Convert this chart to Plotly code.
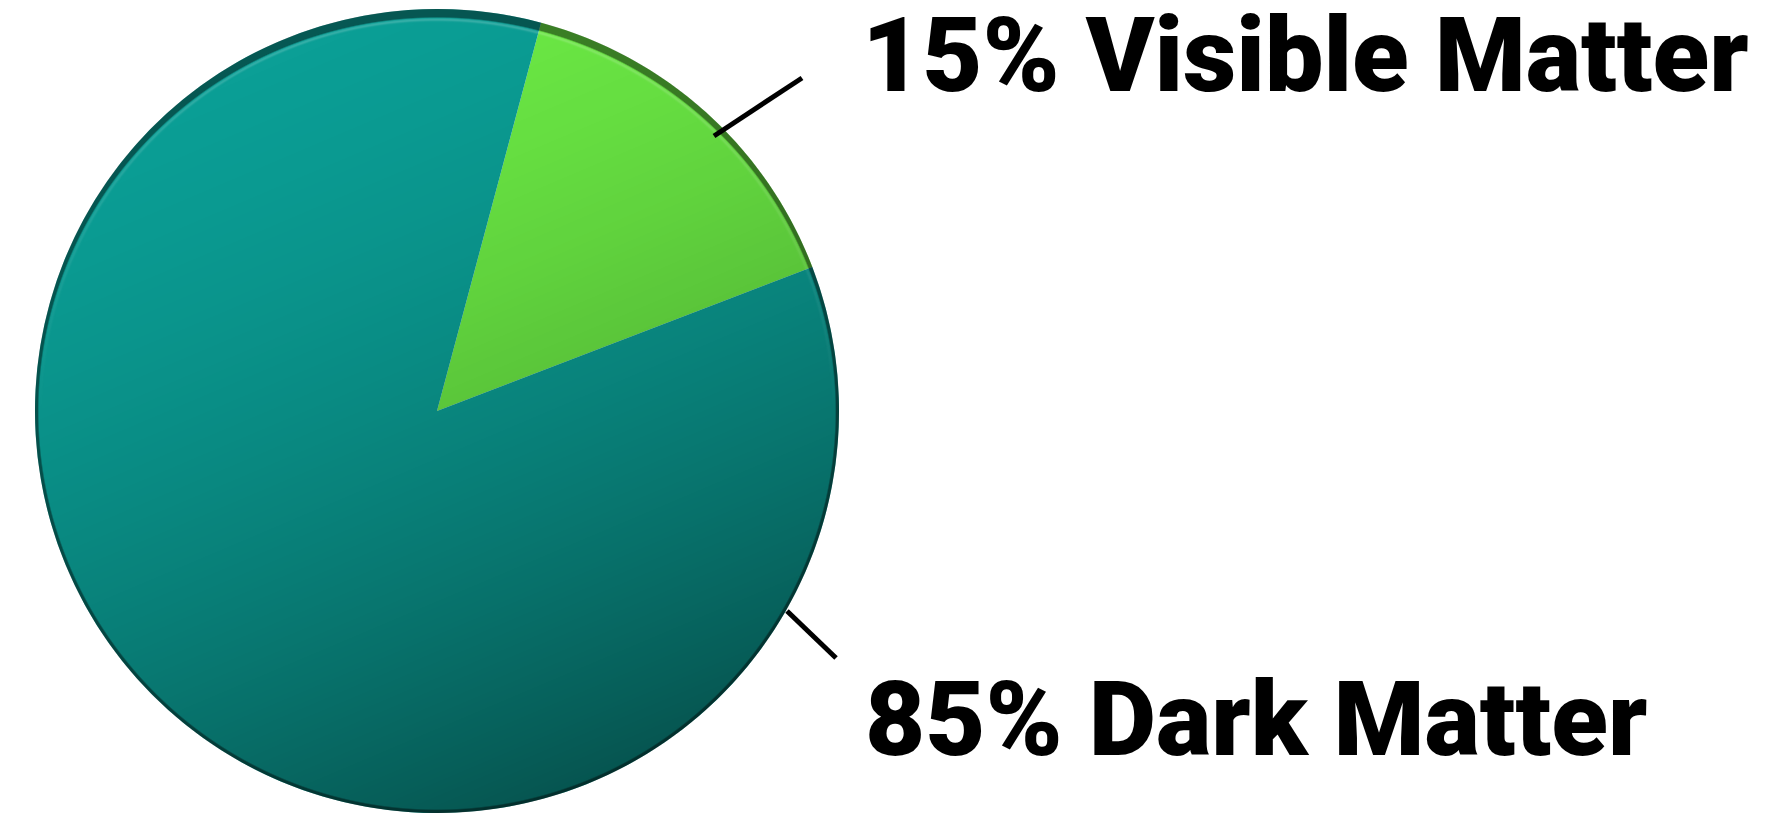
import base64
import struct
import zlib

import numpy as np
import plotly.graph_objects as go

# Share of matter in the universe
labels = ["Visible Matter", "Dark Matter"]
shares = [15, 85]
slice_colors = ["#6ceb45", "#0b9f96"]

W, H = 1783, 813
CX, R = 437, 402          # pie centre (px from left) and radius (px)
CY = H - R                # pie sits on the bottom edge


def png_data_uri(rgba):
    """Encode an RGBA uint8 array as a PNG data URI."""
    h, w, _ = rgba.shape
    raw = b"".join(b"\x00" + rgba[row].tobytes() for row in range(h))

    def chunk(tag, data):
        body = tag + data
        return struct.pack(">I", len(data)) + body + struct.pack(">I", zlib.crc32(body) & 0xFFFFFFFF)

    png = b"\x89PNG\r\n\x1a\n"
    png += chunk(b"IHDR", struct.pack(">IIBBBBB", w, h, 8, 6, 0, 0, 0))
    png += chunk(b"IDAT", zlib.compress(raw, 9))
    png += chunk(b"IEND", b"")
    return "data:image/png;base64," + base64.b64encode(png).decode()


def shading_overlay():
    """Soft top-left light to bottom-right shade plus a dark rim for the disc."""
    n = 2 * R
    jj, ii = np.mgrid[0:n, 0:n].astype(float) + 0.5
    px = CX - R + ii
    py = CY - R + jj
    dx, dy = ii - R, jj - R
    dist = np.hypot(dx, dy)

    p = 0.39 * px + 0.92 * py
    level = 162.3 - 0.0109 * p - 7.46e-5 * p ** 2
    shade = np.clip(1 - level / 159.0, 0, 0.55)

    # dark rim, thicker along the upper edge
    up = np.clip(-dy / R, 0, 1)
    rim_w = 2.5 + 5.5 * up ** 2
    edge = R - dist
    rim = np.clip(1 - (edge - rim_w) / 1.5, 0, 1) * 0.45
    alpha = 1 - (1 - shade) * (1 - rim)

    # faint highlight just inside the rim on the upper half
    hl = np.exp(-((edge - rim_w - 3) / 1.5) ** 2) * 0.18 * up
    inside = np.clip(edge + 0.5, 0, 1)

    rgba = np.zeros((n, n, 4), dtype=np.uint8)
    a_dark = alpha * (1 - hl)
    a_total = a_dark + hl
    light = np.where(a_total > 0, hl / np.maximum(a_total, 1e-6), 0)
    rgba[..., 0] = (255 * light).astype(np.uint8)
    rgba[..., 1] = (255 * light).astype(np.uint8)
    rgba[..., 2] = (255 * light).astype(np.uint8)
    rgba[..., 3] = np.clip(a_total * inside * 255, 0, 255).astype(np.uint8)
    return png_data_uri(rgba)


fig = go.Figure(
    go.Pie(
        labels=labels,
        values=shares,
        sort=False,
        direction="clockwise",
        rotation=15,
        marker=dict(colors=slice_colors, line=dict(width=0)),
        textinfo="none",
        hoverinfo="label+percent",
        domain=dict(x=[(CX - R) / W, (CX + R) / W], y=[0, 2 * R / H]),
        showlegend=False,
    )
)

fig.add_layout_image(
    source=shading_overlay(), xref="paper", yref="paper",
    x=(CX - R) / W, y=2 * R / H, sizex=2 * R / W, sizey=2 * R / H,
    xanchor="left", yanchor="top", sizing="stretch", layer="above",
)

label_font = dict(family="Roboto", size=104, color="#000000", weight=900)

# callout texts built from the data
callouts = [
    (f"{shares[0]}% {labels[0]}", 861, 56),
    (f"{shares[1]}% {labels[1]}", 864, 719),
]
for text, px, py in callouts:
    fig.add_annotation(
        text=text, xref="paper", yref="paper",
        x=px / W, y=1 - py / H, xanchor="left", yanchor="middle",
        showarrow=False, font=label_font, borderpad=0,
    )

# leader ticks
for x0, y0, x1, y1 in [(714, 136, 802, 78), (787, 611, 836, 658)]:
    fig.add_shape(type="line", xref="paper", yref="paper",
                  x0=x0 / W, y0=1 - y0 / H, x1=x1 / W, y1=1 - y1 / H,
                  line=dict(color="#000000", width=5))

fig.update_layout(
    width=W, height=H,
    margin=dict(l=0, r=0, t=0, b=0),
    paper_bgcolor="#ffffff",
    plot_bgcolor="#ffffff",
)

fig.write_html("out.html")
